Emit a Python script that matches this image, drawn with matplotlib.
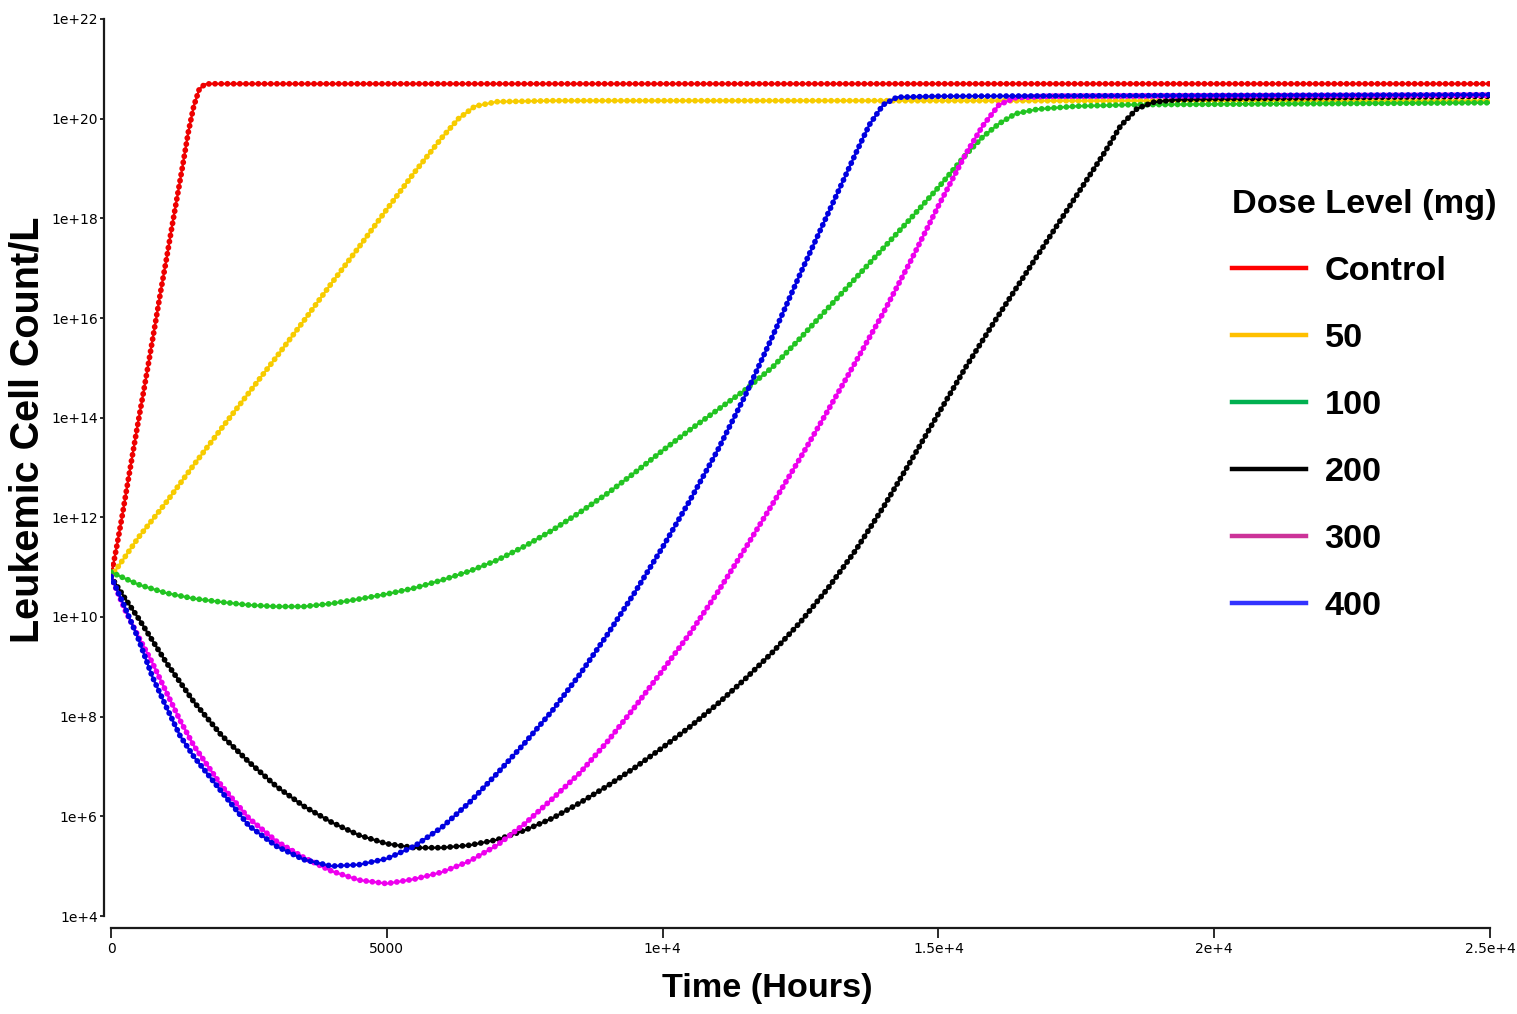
import matplotlib.pyplot as plt
from matplotlib.lines import Line2D
import numpy as np

# --- data: time (hours) and log10(leukemic cells / L) ---
t_control = [0, 100, 200, 300, 400, 500, 600, 700, 800, 900, 1000, 1100, 1200,
             1300, 1400, 1500, 1600, 1700, 1800, 25000]
y_control = [10.81, 11.39, 12.01, 12.67, 13.32, 13.96, 14.58, 15.22, 15.87, 16.53,
             17.15, 17.80, 18.43, 19.06, 19.72, 20.25, 20.59, 20.69, 20.70, 20.70]

t_50 = [0, 250, 500, 1000, 1500, 2000, 2500, 3000, 3500, 4000, 4500, 5000, 5500,
        6000, 6300, 6600, 7000, 8000, 25000]
y_50 = [10.81, 11.2, 11.6, 12.3, 13.05, 13.78, 14.5, 15.22, 15.95, 16.7, 17.43,
        18.18, 18.92, 19.62, 20.0, 20.25, 20.34, 20.36, 20.36]

t_100 = [0, 500, 1000, 1500, 2000, 2500, 3000, 3500, 4000, 4500, 5000, 5500, 6000,
         6500, 7000, 7500, 8000, 8500, 9000, 9500, 10000, 10500, 11000, 11500,
         12000, 12500, 13000, 13500, 14000, 14500, 15000, 15500, 15800, 16100,
         16400, 16800, 17500, 18500, 25000]
y_100 = [10.9, 10.65, 10.48, 10.37, 10.3, 10.24, 10.21, 10.21, 10.27, 10.36, 10.46,
         10.58, 10.74, 10.92, 11.14, 11.42, 11.74, 12.1, 12.48, 12.9, 13.34, 13.76,
         14.16, 14.56, 15.02, 15.6, 16.2, 16.8, 17.4, 18.0, 18.62, 19.28, 19.63,
         19.9, 20.1, 20.19, 20.25, 20.28, 20.32]

t_200 = [0, 250, 500, 750, 1000, 1500, 2000, 2500, 3000, 3500, 4000, 4500, 5000,
         5500, 6000, 6500, 7000, 7500, 8000, 8500, 9000, 9500, 10000, 10500, 11000,
         11500, 12000, 12500, 13000, 13500, 14000, 14500, 15000, 15500, 16000,
         16500, 17000, 17500, 18000, 18300, 18600, 18900, 19300, 20000, 25000]
y_200 = [10.81, 10.38, 9.97, 9.53, 9.09, 8.3, 7.63, 7.09, 6.6, 6.2, 5.88, 5.62, 5.45,
         5.37, 5.37, 5.42, 5.53, 5.72, 5.96, 6.27, 6.61, 6.98, 7.38, 7.8, 8.26, 8.76,
         9.3, 9.9, 10.58, 11.34, 12.2, 13.13, 14.08, 15.02, 15.9, 16.75, 17.6,
         18.45, 19.3, 19.85, 20.2, 20.33, 20.38, 20.4, 20.45]

t_300 = [0, 250, 500, 750, 1000, 1250, 1500, 2000, 2500, 3000, 3500, 4000, 4500,
         5000, 5500, 6000, 6500, 7000, 7500, 8000, 8500, 9000, 9500, 10000, 10500,
         11000, 11500, 12000, 12500, 13000, 13500, 14000, 14500, 15000, 15500,
         15800, 16100, 16400, 17000, 25000]
y_300 = [10.81, 10.15, 9.6, 9.08, 8.5, 7.93, 7.42, 6.62, 5.96, 5.5, 5.17, 4.9, 4.72,
         4.65, 4.74, 4.88, 5.1, 5.42, 5.85, 6.35, 6.87, 7.5, 8.2, 8.93, 9.68, 10.5,
         11.38, 12.28, 13.2, 14.15, 15.12, 16.1, 17.15, 18.25, 19.3, 19.85, 20.28,
         20.42, 20.45, 20.47]

t_400 = [0, 250, 500, 750, 1000, 1250, 1500, 2000, 2500, 3000, 3500, 4000, 4500,
         5000, 5500, 6000, 6500, 7000, 7500, 8000, 8500, 9000, 9500, 10000, 10500,
         11000, 11500, 12000, 12500, 13000, 13500, 13750, 14000, 14250, 15000, 25000]
y_400 = [10.81, 10.2, 9.55, 8.8, 8.2, 7.62, 7.2, 6.5, 5.81, 5.4, 5.13, 5.0, 5.03,
         5.15, 5.4, 5.78, 6.28, 6.86, 7.47, 8.12, 8.85, 9.65, 10.5, 11.4, 12.35,
         13.35, 14.45, 15.65, 16.9, 18.1, 19.3, 19.88, 20.28, 20.43, 20.45, 20.48]

labels = ['Control', '50', '100', '200', '300', '400']
line_colors = ['#ee0000', '#f7cc00', '#22c422', '#000000', '#ee00ee', '#0000e0']
legend_colors = ['#ff0000', '#ffc000', '#00b050', '#000000', '#cc3399', '#3333ff']
series = [(t_control, y_control), (t_50, y_50), (t_100, y_100),
          (t_200, y_200), (t_300, y_300), (t_400, y_400)]
draw_order = [1, 2, 4, 3, 5, 0]

y_ticks = [4, 6, 8, 10, 12, 14, 16, 18, 20, 22]
x_ticks = [0, 5000, 10000, 15000, 20000, 25000]
x_ticklabels = ['0', '5000', '1e+4', '1.5e+4', '2e+4', '2.5e+4']

W, H = 1517, 1014
fig = plt.figure(figsize=(W / 100, H / 100), dpi=100)
ax = fig.add_axes([111 / W, (H - 916) / H, 1379 / W, 897 / H])

for i in draw_order:
    t, ly = series[i]
    vals = np.power(10.0, ly)
    ax.plot(t, vals, color=line_colors[i], lw=1.6, zorder=2 + i * 0.1)
    # beaded look of the dense point markers
    ax.plot(t, vals, color=line_colors[i], lw=4.2, linestyle=(0, (0.01, 1.05)),
            dash_capstyle='round', solid_joinstyle='round', zorder=2 + i * 0.1)

ax.set_yscale('log')
ax.set_xlim(0, 25000)
ax.set_ylim(1e4, 1e22)
ax.set_yticks([10.0 ** k for k in y_ticks])
ax.set_yticklabels([f'1e+{k}' for k in y_ticks])
ax.yaxis.set_minor_locator(plt.NullLocator())
ax.set_xticks(x_ticks)
ax.set_xticklabels(x_ticklabels)

tick_font = ['Liberation Sans Narrow', 'DejaVu Sans']
for lab in ax.get_xticklabels() + ax.get_yticklabels():
    lab.set_family(tick_font)
    lab.set_stretch('condensed')
    lab.set_fontsize(9.5)
    lab.set_color('#333333')

for s in ['top', 'right']:
    ax.spines[s].set_visible(False)
ax.spines['left'].set_position(('outward', 5))
ax.spines['bottom'].set_position(('outward', 8.5))
ax.spines['left'].set_bounds(1e4, 1e22)
ax.spines['bottom'].set_bounds(0, 25000)
for s in ['left', 'bottom']:
    ax.spines[s].set_linewidth(1.6)
    ax.spines[s].set_color('#1a1a1a')
ax.tick_params(axis='y', direction='out', length=3, width=1.3, color='#1a1a1a', pad=1.5)
ax.tick_params(axis='x', direction='out', length=7, width=1.3, color='#1a1a1a', pad=3)

ax.set_xlabel('Time (Hours)', fontsize=24.7, fontweight='bold', family='Liberation Sans')
ax.set_ylabel('Leukemic Cell Count/L', fontsize=28.5, fontweight='bold', family='Liberation Sans')
ax.xaxis.set_label_coords(0.476, -0.063)
ax.yaxis.set_label_coords(-0.047, 0.542)

handles = [Line2D([0], [0], color=c, lw=3.2) for c in legend_colors]
leg = ax.legend(handles, labels, title='Dose Level (mg)', loc='upper left',
                bbox_to_anchor=(1232 / W, (H - 189) / H), bbox_transform=fig.transFigure,
                frameon=False, prop={'family': 'Liberation Sans', 'weight': 'bold', 'size': 24.7},
                title_fontproperties={'family': 'Liberation Sans', 'weight': 'bold', 'size': 24.7},
                alignment='left', handlelength=2.15, handletextpad=0.55, labelspacing=1.05,
                borderaxespad=0, borderpad=0)

fig.savefig('out.png', dpi=100)
